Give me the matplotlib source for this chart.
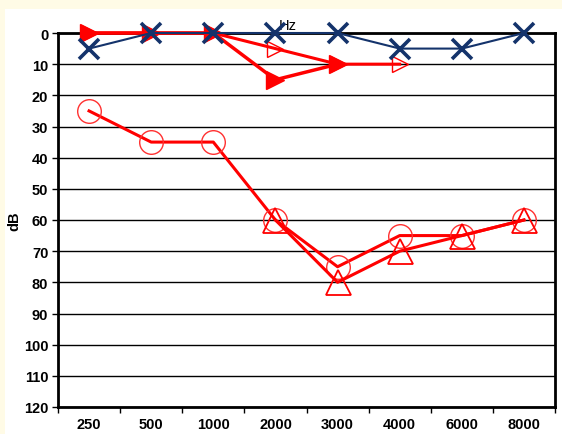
import matplotlib.pyplot as plt
from matplotlib.patches import Rectangle

freqs = ["250", "500", "1000", "2000", "3000", "4000", "6000", "8000"]
x = list(range(len(freqs)))

# air / bone thresholds (dB)
blue_x = [5, 0, 0, 0, 0, 5, 5, 0]
red_fill_tri = [0, 0, 0, 15, 10]
red_open_tri = [0, 0, 0, 5, 10, 10]
red_circle = [25, 35, 35, 60, 75, 65, 65, 60]
red_up_tri = [60, 80, 70, 65, 60]
up_tri_start = 3

red = "#ff0000"
navy = "#14336b"

fig = plt.figure(figsize=(5.62, 4.35), dpi=100)
fig.patch.set_facecolor("#fffbe6")
fig.patches.append(Rectangle((5 / 562, 0), 1, 1 - 10 / 435, transform=fig.transFigure,
                             facecolor="white", edgecolor="none", zorder=-1))

ax = fig.add_axes([58 / 562, 27 / 435, 497 / 562, 374 / 435])
ax.set_zorder(1)
ax.set_facecolor("white")

ax.plot(x, red_circle, color=red, lw=2.2, marker="o", ms=17, mfc="none",
        mec="#ff3030", mew=1.0, clip_on=False, zorder=3)
ax.plot(x[up_tri_start:], red_up_tri, color=red, lw=2.2, marker="^", ms=18, mfc="none",
        mec=red, mew=1.3, clip_on=False, zorder=3)
ax.plot(x[:len(red_open_tri)], red_open_tri, color=red, lw=2.2, marker=">", ms=11,
        mfc="none", mec=red, mew=1.0, clip_on=False, zorder=3)
ax.plot(x[:len(red_fill_tri)], red_fill_tri, color=red, lw=2.5, marker=">", ms=13,
        mfc=red, mec=red, clip_on=False, zorder=4)
ax.plot(x, blue_x, color=navy, lw=1.5, marker="x", ms=15, mew=2.6,
        clip_on=False, zorder=5)

ax.text(3.05, -0.3, "Hz", fontsize=10.5, family="Liberation Sans", va="bottom", ha="left")

ax.set_xlim(-0.5, 7.5)
ax.set_ylim(120, 0)
ax.set_yticks(range(0, 121, 10))
ax.set_xticks(x)
ax.set_xticklabels(freqs)
ax.set_xticks([i + 0.5 for i in range(-1, 8)], minor=True)
ax.tick_params(axis="x", which="major", length=0, pad=7)
ax.tick_params(axis="x", which="minor", length=4, width=1, direction="out")
ax.tick_params(axis="y", length=4, width=1, pad=3)
for lab in ax.get_xticklabels() + ax.get_yticklabels():
    lab.set_fontweight("bold")
    lab.set_fontsize(10.5)
    lab.set_family("Liberation Sans")
ax.yaxis.grid(True, color="black", lw=1.0)
ax.set_axisbelow(True)
for s in ax.spines.values():
    s.set_linewidth(2)
ax.set_ylabel("dB", fontsize=10.5, fontweight="bold", family="Liberation Sans", labelpad=2)

fig.savefig("out.png", dpi=100, facecolor=fig.get_facecolor())
